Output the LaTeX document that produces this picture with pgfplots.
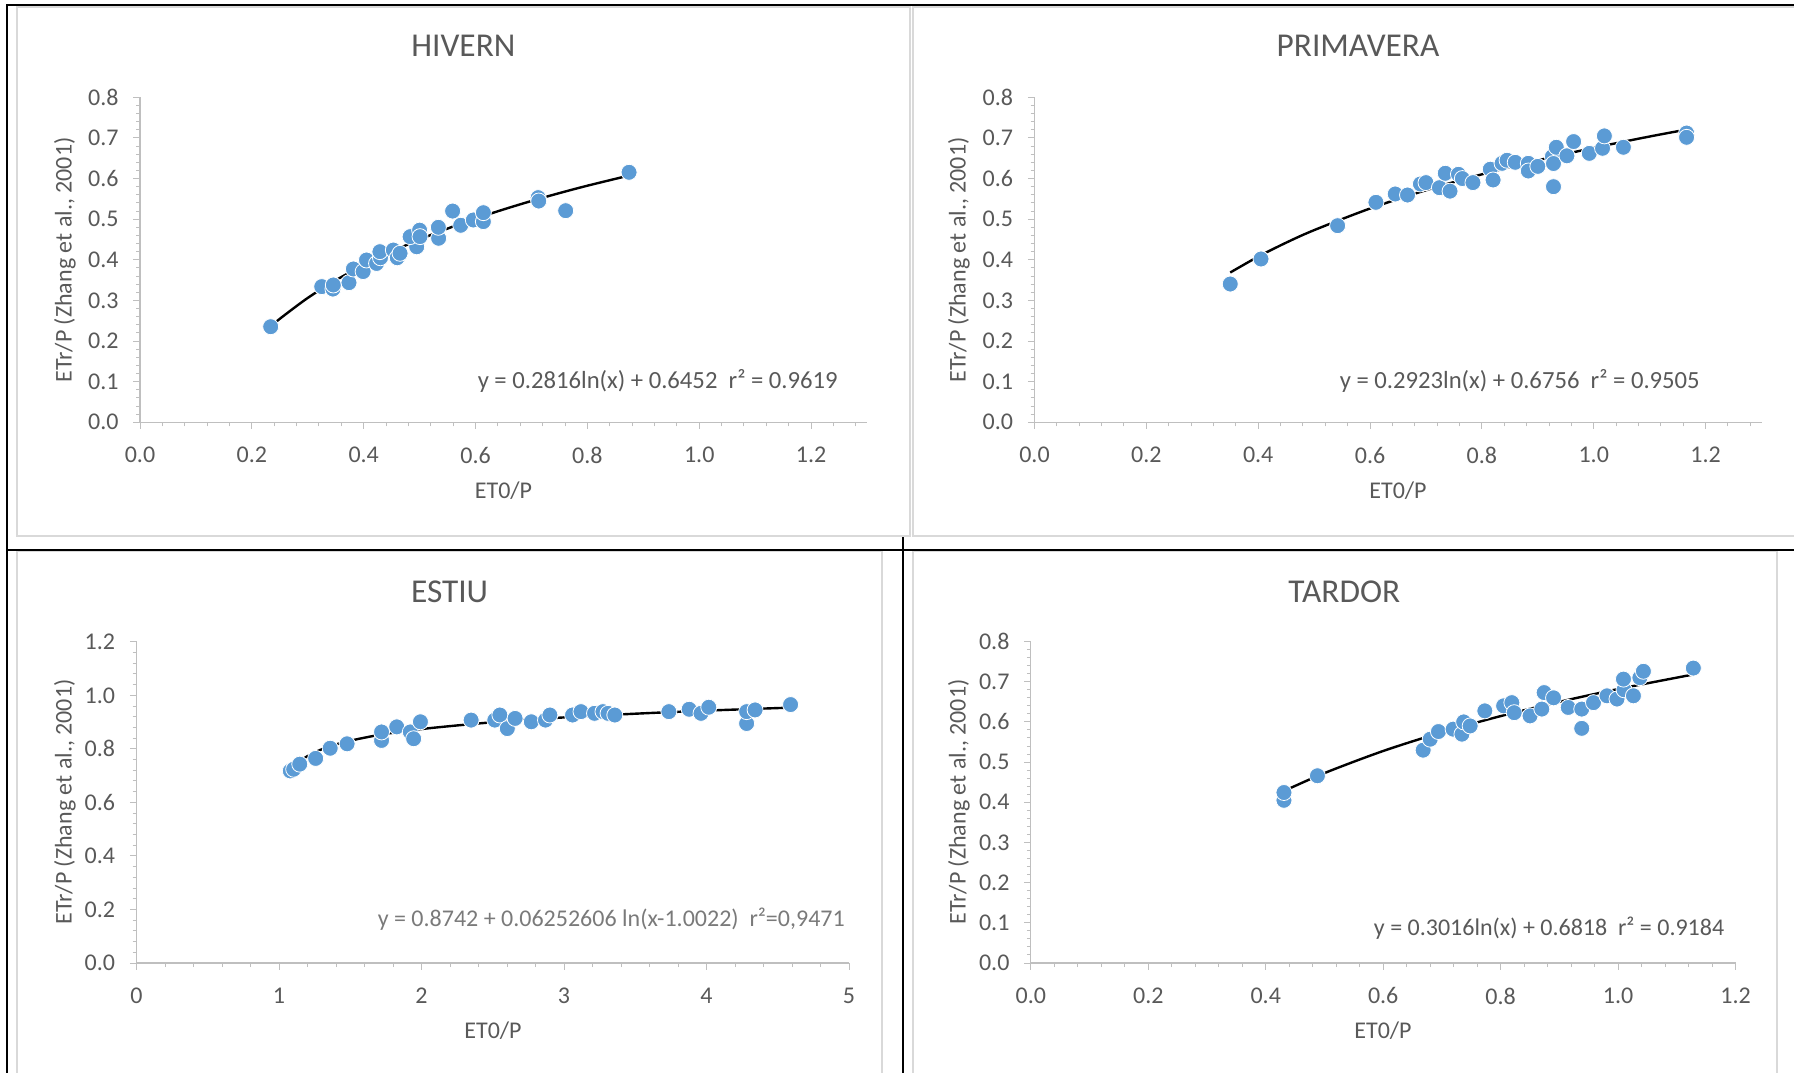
\documentclass[border=0pt]{standalone}
\usepackage{fontspec}
\setmainfont{Carlito}
\usepackage{pgfplots}
\pgfplotsset{compat=1.18}
\definecolor{txt}{HTML}{595959}
\definecolor{axl}{HTML}{BFBFBF}
\definecolor{pb}{HTML}{D9D9D9}
\definecolor{mk}{HTML}{5B9BD5}
\newcommand\tickfont{\fontsize{18}{21}\selectfont}
\newcommand\eqfont{\fontsize{18.5}{21}\selectfont}
\newcommand\titfont{\fontsize{25}{29}\selectfont}
\pgfplotsset{
  panel/.style={
    scale only axis, anchor=south west, clip=false,
    axis lines=left, axis line style={-, draw=axl, line width=1pt},
    tick align=outside, major tick length=5pt, minor tick length=3pt,
    tick style={draw=axl, line width=0.75pt},
    tick label style={font=\tickfont, text=txt},
    xticklabel style={yshift=-10pt},
    yticklabel style={xshift=-7.5pt},
    /pgf/number format/assume math mode=true,
  },
  pts/.style={only marks, mark=*, mark size=6pt, mark options={fill=mk, draw=white, line width=0.6pt}},
  trend/.style={black, line width=1.8pt, smooth, no marks},
}
\begin{document}
\begin{tikzpicture}
\begin{scope}[x=0.75pt,y=-0.75pt]
\path[use as bounding box] (0,0) rectangle (1794,1073);
\draw[pb, line width=1.2pt] (17,7) rectangle (910,536);
\draw[pb, line width=1.2pt] (1800,536) -- (913,536) -- (913,7) -- (1800,7);
\draw[pb, line width=1.2pt] (17,1080) -- (17,551) -- (882,551) -- (882,1080);
\draw[pb, line width=1.2pt] (913,1080) -- (913,551) -- (1777,551) -- (1777,1080);
\draw[black, line width=2pt] (7,1080) -- (7,5) -- (1800,5);
\draw[black, line width=2pt] (7,550) -- (1800,550);
\draw[black, line width=2pt] (903,537) -- (903,1080);
% titles
\node[text=txt, font=\titfont, anchor=base] at (463.4,56.6) {HIVERN};
\node[text=txt, font=\titfont, anchor=base] at (1358,56.6) {PRIMAVERA};
\node[text=txt, font=\titfont, anchor=base] at (449.6,602.3) {ESTIU};
\node[text=txt, font=\titfont, anchor=base] at (1344.3,602.3) {TARDOR};
% x labels
\node[text=txt, font=\tickfont, anchor=base] at (503.5,498.6) {ET0/P};
\node[text=txt, font=\tickfont, anchor=base] at (1398,498.6) {ET0/P};
\node[text=txt, font=\tickfont, anchor=base] at (493,1038.6) {ET0/P};
\node[text=txt, font=\tickfont, anchor=base] at (1383,1038.6) {ET0/P};
% y labels
\node[text=txt, font=\tickfont, rotate=90] at (65,260) {ETr/P (Zhang et al., 2001)};
\node[text=txt, font=\tickfont, rotate=90] at (959,260) {ETr/P (Zhang et al., 2001)};
\node[text=txt, font=\tickfont, rotate=90] at (65,802) {ETr/P (Zhang et al., 2001)};
\node[text=txt, font=\tickfont, rotate=90] at (959,802) {ETr/P (Zhang et al., 2001)};
% equations
\node[text=txt, font=\eqfont, anchor=base east, inner sep=0pt] at (838,388) {y = 0.2816ln(x) + 0.6452\ \ r² = 0.9619};
\node[text=txt, font=\eqfont, anchor=base east, inner sep=0pt] at (1700,388) {y = 0.2923ln(x) + 0.6756\ \ r² = 0.9505};
\node[text=txt!80, font=\tickfont, anchor=base east, inner sep=0pt] at (845,926.3) {y = 0.8742 + 0.06252606 ln(x-1.0022)\ \ r²=0,9471};
\node[text=txt, font=\tickfont, anchor=base east, inner sep=0pt] at (1724.5,935.6) {y = 0.3016ln(x) + 0.6818\ \ r² = 0.9184};
\end{scope}

% HIVERN
\begin{axis}[panel, at={(140*0.75pt,-422.3*0.75pt)}, width=545.25pt, height=243.75pt,
  xmin=0, xmax=1.3, ymin=0, ymax=0.8,
  xtick={0,0.2,0.4,0.6,0.8,1.0,1.2}, xticklabels={0.0,0.2,0.4,0.6,0.8,1.0,1.2},
  ytick={0,0.1,0.2,0.3,0.4,0.5,0.6,0.7,0.8}, yticklabels={0.0,0.1,0.2,0.3,0.4,0.5,0.6,0.7,0.8},
  minor xtick={0,0.04,...,1.3}, minor ytick={0,0.02,...,0.8}]
\addplot[pts] coordinates {
(0.2337,0.2353) (0.325,0.334) (0.345,0.328) (0.3457,0.338) (0.3737,0.3437) (0.3815,0.3774)
(0.399,0.371) (0.405,0.3995) (0.423,0.391) (0.43,0.405) (0.429,0.42) (0.453,0.424)
(0.46,0.405) (0.465,0.416) (0.4948,0.432) (0.483,0.457) (0.50,0.473) (0.5007,0.457)
(0.534,0.453) (0.5335,0.480) (0.559,0.520) (0.5735,0.485) (0.596,0.498) (0.614,0.494)
(0.614,0.516) (0.712,0.553) (0.713,0.5447) (0.7612,0.5209) (0.8745,0.6154)};
\addplot[trend] coordinates {
(0.234,0.2362) (0.25,0.2548) (0.3,0.3062) (0.35,0.3496) (0.4,0.3872) (0.45,0.4203)
(0.5,0.4500) (0.55,0.4769) (0.6,0.5014) (0.65,0.5239) (0.7,0.5448) (0.75,0.5642)
(0.8,0.5824) (0.875,0.6076)};
\end{axis}

% PRIMAVERA
\begin{axis}[panel, at={(1034.5*0.75pt,-422.3*0.75pt)}, width=545.25pt, height=243.75pt,
  xmin=0, xmax=1.3, ymin=0, ymax=0.8,
  xtick={0,0.2,0.4,0.6,0.8,1.0,1.2}, xticklabels={0.0,0.2,0.4,0.6,0.8,1.0,1.2},
  ytick={0,0.1,0.2,0.3,0.4,0.5,0.6,0.7,0.8}, yticklabels={0.0,0.1,0.2,0.3,0.4,0.5,0.6,0.7,0.8},
  minor xtick={0,0.04,...,1.3}, minor ytick={0,0.02,...,0.8}]
\addplot[pts] coordinates {
(0.350,0.3404) (0.405,0.402) (0.542,0.484) (0.6105,0.5415) (0.645,0.562) (0.667,0.5595)
(0.690,0.5866) (0.700,0.59) (0.724,0.5775) (0.7345,0.613) (0.743,0.569) (0.758,0.6105)
(0.765,0.60) (0.784,0.590) (0.815,0.623) (0.820,0.5965) (0.836,0.6375) (0.845,0.645)
(0.8596,0.640) (0.883,0.6375) (0.883,0.6186) (0.9,0.63) (0.926,0.654) (0.928,0.580)
(0.928,0.637) (0.933,0.677) (0.952,0.656) (0.964,0.691) (0.992,0.662) (1.0157,0.6745)
(1.019,0.705) (1.053,0.677) (1.166,0.712) (1.166,0.7015)};
\addplot[trend] coordinates {
(0.35,0.3687) (0.4,0.4078) (0.45,0.4422) (0.5,0.4730) (0.6,0.5263) (0.7,0.5713)
(0.8,0.6104) (0.9,0.6448) (1.0,0.6756) (1.1,0.7035) (1.166,0.7205)};
\end{axis}

% ESTIU
\begin{axis}[panel, at={(136.5*0.75pt,-963*0.75pt)}, width=534.4pt, height=240.9pt,
  xmin=0, xmax=5, ymin=0, ymax=1.2,
  xtick={0,1,2,3,4,5}, xticklabels={0,1,2,3,4,5},
  ytick={0,0.2,0.4,0.6,0.8,1.0,1.2}, yticklabels={0.0,0.2,0.4,0.6,0.8,1.0,1.2},
  minor xtick={0,0.2,...,5}, minor ytick={0,0.04,...,1.2}]
\addplot[pts] coordinates {
(1.0792,0.7176) (1.1029,0.7239) (1.1455,0.7429) (1.2571,0.7644) (1.3591,0.8024) (1.4777,0.8189)
(1.7196,0.8315) (1.7196,0.8632) (1.8263,0.8822) (1.9212,0.8632) (1.9449,0.8379) (1.9924,0.9012)
(2.3481,0.9075) (2.5142,0.9075) (2.5498,0.9265) (2.6020,0.8758) (2.6566,0.9138) (2.7704,0.9012)
(2.8700,0.9075) (2.9008,0.9265) (3.0598,0.9265) (3.1191,0.9391) (3.2140,0.9328) (3.2733,0.9391)
(3.3088,0.9328) (3.3563,0.9265) (3.7358,0.9391) (3.8781,0.948) (3.9612,0.9328) (4.0157,0.9556)
(4.2814,0.8948) (4.2814,0.9391) (4.3407,0.9455) (4.5898,0.9655)};
\addplot[trend] coordinates {
(1.09,0.7221) (1.1,0.7288) (1.15,0.7547) (1.2,0.7729) (1.3,0.7985) (1.4,0.8166)
(1.5,0.8306) (1.7,0.8517) (2.0,0.8741) (2.5,0.8995) (3.0,0.9175) (3.5,0.9314)
(4.0,0.9429) (4.59,0.9541)};
\end{axis}

% TARDOR
\begin{axis}[panel, at={(1030.8*0.75pt,-963*0.75pt)}, width=528.6pt, height=241.1pt,
  xmin=0, xmax=1.2, ymin=0, ymax=0.8,
  xtick={0,0.2,0.4,0.6,0.8,1.0,1.2}, xticklabels={0.0,0.2,0.4,0.6,0.8,1.0,1.2},
  ytick={0,0.1,0.2,0.3,0.4,0.5,0.6,0.7,0.8}, yticklabels={0.0,0.1,0.2,0.3,0.4,0.5,0.6,0.7,0.8},
  minor xtick={0,0.04,...,1.2}, minor ytick={0,0.02,...,0.8}]
\addplot[pts] coordinates {
(0.431,0.405) (0.431,0.4243) (0.488,0.466) (0.668,0.5297) (0.680,0.557) (0.694,0.576)
(0.719,0.582) (0.734,0.5695) (0.737,0.60) (0.748,0.590) (0.773,0.6275) (0.805,0.64)
(0.819,0.648) (0.823,0.623) (0.850,0.615) (0.870,0.632) (0.874,0.673) (0.89,0.66)
(0.915,0.636) (0.938,0.632) (0.938,0.584) (0.958,0.648) (0.981,0.665) (0.998,0.657)
(1.01,0.68) (1.009,0.7065) (1.026,0.665) (1.037,0.710) (1.043,0.726) (1.128,0.734)};
\addplot[trend] coordinates {
(0.431,0.4280) (0.5,0.4727) (0.6,0.5277) (0.7,0.5742) (0.8,0.6145) (0.9,0.6500)
(1.0,0.6818) (1.128,0.7181)};
\end{axis}
\end{tikzpicture}
\end{document}
